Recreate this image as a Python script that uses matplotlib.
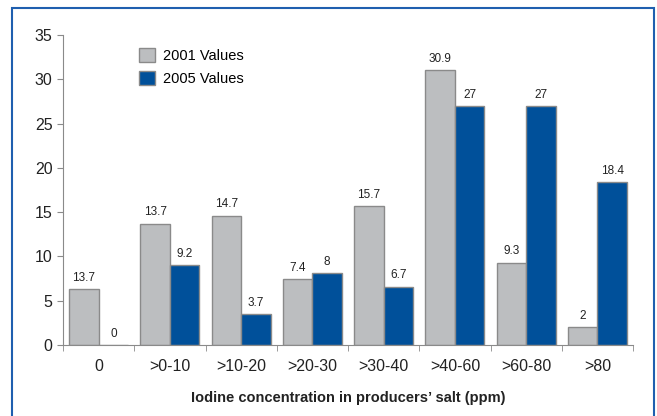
import numpy as np
import matplotlib.pyplot as plt
from matplotlib.patches import Rectangle

categories = ['0', '>0-10', '>10-20', '>20-30', '>30-40', '>40-60', '>60-80', '>80']
values_2001 = [6.3, 13.7, 14.6, 7.4, 15.7, 31.0, 9.3, 2.0]
values_2005 = [0, 9.0, 3.5, 8.1, 6.6, 27.0, 27.0, 18.4]
labels_2001 = ['13.7', '13.7', '14.7', '7.4', '15.7', '30.9', '9.3', '2']
labels_2005 = ['0', '9.2', '3.7', '8', '6.7', '27', '27', '18.4']

plt.rcParams['font.family'] = ['Liberation Sans Narrow', 'Liberation Sans', 'DejaVu Sans']

gray = '#bcbec0'
blue = '#00509a'
edge = '#8a8a8a'

fig = plt.figure(figsize=(6.57, 4.16), dpi=100)
ax = fig.add_axes([0.0959, 0.1707, 0.8676, 0.7452])

x = np.arange(len(categories))
w = 0.415
ax.bar(x - w/2, values_2001, w, color=gray, edgecolor=edge, linewidth=1, label='2001 Values')
ax.bar(x + w/2, values_2005, w, color=blue, edgecolor=edge, linewidth=1, label='2005 Values')

for xi, v, t in zip(x, values_2001, labels_2001):
    ax.text(xi - w/2, v + 0.6, t, ha='center', va='bottom', fontsize=8.5, color='#222222')
for xi, v, t in zip(x, values_2005, labels_2005):
    ax.text(xi + w/2, v + 0.6, t, ha='center', va='bottom', fontsize=8.5, color='#222222')

ax.set_xlim(-0.5, len(categories) - 0.5)
ax.set_ylim(0, 35)
ax.set_yticks(range(0, 36, 5))
ax.set_xticks(x)
ax.set_xticklabels(categories)
ax.set_xticks(np.arange(-0.5, len(categories)), minor=True)
ax.tick_params(axis='x', which='major', length=0, pad=10, labelsize=11.5, colors='#222222')
ax.tick_params(axis='x', which='minor', length=4, color=edge, direction='out')
ax.tick_params(axis='y', length=4, color=edge, labelsize=11.5, labelcolor='#222222')

for s in ['top', 'right']:
    ax.spines[s].set_visible(False)
for s in ['left', 'bottom']:
    ax.spines[s].set_color(edge)

ax.set_xlabel('Iodine concentration in producers\u2019 salt (ppm)', fontsize=10.5,
              fontweight='bold', labelpad=12, color='#222222')

ax.legend(loc='upper left', bbox_to_anchor=(0.111, 1.0), frameon=False,
          fontsize=10.5, handlelength=1.1, handleheight=1.1, labelspacing=0.55,
          handletextpad=0.5)

fig.patches.append(Rectangle((12/657, -0.05), 642/657, 1 - 8/416 + 0.05,
                             transform=fig.transFigure, fill=False,
                             edgecolor='#1f5faf', linewidth=1.5))

fig.savefig('out.png', dpi=100)
